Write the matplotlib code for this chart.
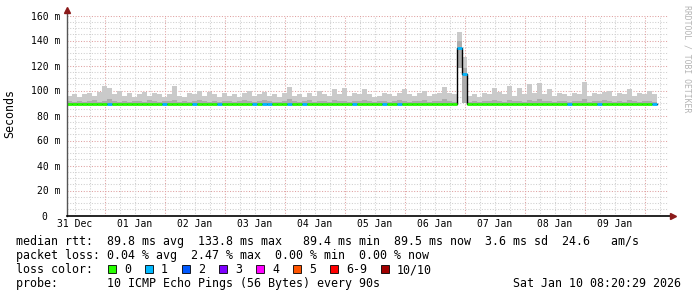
#!/usr/bin/env python3
"""SmokePing style latency graph, 10 days, rrdtool look"""
import datetime as dt
import numpy as np
import matplotlib
matplotlib.use('Agg')
import matplotlib.pyplot as plt
import matplotlib.dates as mdates
from matplotlib.patches import Rectangle

# data: one value per 2 hour bin, starting at the left edge of the graph
start = dt.datetime(2025, 12, 31, 8, 40)
step_hours = 2

smoke_hi = [
    96, 97, 95, 97, 98, 96, 99, 104, 102, 97,
    100, 96, 98, 95, 97, 99, 96, 98, 97, 95,
    97, 104, 96, 95, 98, 97, 100, 96, 99, 97,
    95, 98, 96, 97, 95, 98, 100, 96, 97, 99,
    96, 97, 95, 98, 103, 96, 97, 95, 98, 96,
    100, 97, 96, 101, 97, 102, 96, 98, 97, 101,
    97, 95, 96, 98, 97, 96, 98, 101, 97, 96,
    98, 100, 96, 97, 98, 103, 98, 97, 147, 127,
    96, 97, 95, 98, 97, 102, 99, 97, 104, 96,
    102, 97, 105, 98, 106, 97, 101, 96, 98, 97,
    96, 98, 97, 107, 96, 98, 97, 99, 100, 96,
    98, 97, 101, 96, 98, 97, 100, 97,
]
smoke_mid = [
    91.5, 91, 92, 90.5, 91.5, 92.5, 91, 92, 93, 91.5,
    91, 91.5, 90.5, 92, 91.5, 91, 92.5, 91.5, 90.5, 91.5,
    92, 92.5, 91, 91.5, 90.5, 92, 92.5, 91.5, 91, 91.5,
    90.5, 91.5, 92, 91, 91.5, 92.5, 91.5, 91, 92, 92.5,
    91.5, 91, 90.5, 92, 93, 91.5, 91, 91.5, 92.5, 91,
    91.5, 92, 91, 92.5, 91.5, 92, 90.5, 91.5, 92, 92.5,
    91.5, 91, 91.5, 92, 91, 91.5, 92.5, 92, 91, 91.5,
    92, 92.5, 91, 91.5, 92, 93, 91.5, 91, 140, 118,
    91, 91.5, 90.5, 92, 91.5, 92.5, 91.5, 91, 92.5, 91.5,
    92, 91, 92.5, 91.5, 93, 91.5, 92, 91, 91.5, 92,
    91, 91.5, 92, 93, 91, 91.5, 92, 92.5, 91.5, 91,
    91.5, 91, 92.5, 91.5, 91, 92, 91.5, 91,
]
smoke_lo = [
    88.8, 88.8, 88.7, 88.8, 88.9, 88.8, 88.8, 88.7, 88.8, 88.8,
    88.8, 88.7, 88.8, 88.8, 88.9, 88.8, 88.8, 88.8, 88.7, 88.8,
    88.8, 88.8, 88.9, 88.8, 88.8, 88.7, 88.8, 88.8, 88.8, 88.8,
    88.7, 88.8, 88.8, 88.8, 88.9, 88.8, 88.8, 88.7, 88.8, 88.8,
    88.8, 88.8, 88.7, 88.8, 88.8, 88.9, 88.8, 88.8, 88.8, 88.7,
    88.8, 88.8, 88.8, 88.8, 88.9, 88.8, 88.7, 88.8, 88.8, 88.8,
    88.8, 88.7, 88.8, 88.8, 88.8, 88.9, 88.8, 88.8, 88.7, 88.8,
    88.8, 88.8, 88.8, 88.7, 88.8, 88.8, 88.9, 88.8, 118, 90,
    88.8, 88.8, 88.7, 88.8, 88.8, 88.8, 88.9, 88.8, 88.8, 88.7,
    88.8, 88.8, 88.8, 88.8, 88.7, 88.8, 88.9, 88.8, 88.8, 88.8,
    88.8, 88.7, 88.8, 88.8, 88.8, 88.8, 88.9, 88.8, 88.7, 88.8,
    88.8, 88.8, 88.8, 88.7, 88.8, 88.8, 88.8, 88.8,
]
median = [
    89.6, 89.6, 89.6, 89.6, 89.6, 89.6, 89.6, 89.6, 89.6, 89.6,
    89.6, 89.6, 89.6, 89.6, 89.6, 89.6, 89.6, 89.6, 89.6, 89.6,
    89.6, 89.6, 89.6, 89.6, 89.6, 89.6, 89.6, 89.6, 89.6, 89.6,
    89.6, 89.6, 89.6, 89.6, 89.6, 89.6, 89.6, 89.6, 89.6, 89.6,
    89.6, 89.6, 89.6, 89.6, 89.6, 89.6, 89.6, 89.6, 89.6, 89.6,
    89.6, 89.6, 89.6, 89.6, 89.6, 89.6, 89.6, 89.6, 89.6, 89.6,
    89.6, 89.6, 89.6, 89.6, 89.6, 89.6, 89.6, 89.6, 89.6, 89.6,
    89.6, 89.6, 89.6, 89.6, 89.6, 89.6, 89.6, 89.6, 133.8, 113.0,
    89.6, 89.6, 89.6, 89.6, 89.6, 89.6, 89.6, 89.6, 89.6, 89.6,
    89.6, 89.6, 89.6, 89.6, 89.6, 89.6, 89.6, 89.6, 89.6, 89.6,
    89.6, 89.6, 89.6, 89.6, 89.6, 89.6, 89.6, 89.6, 89.6, 89.6,
    89.6, 89.6, 89.6, 89.6, 89.6, 89.6, 89.6, 89.6,
]
loss = [
    0, 0, 0, 0, 0, 0, 0, 0, 1, 0,
    0, 0, 0, 0, 0, 0, 0, 0, 0, 1,
    0, 0, 0, 0, 0, 1, 0, 0, 0, 0,
    1, 0, 0, 0, 0, 0, 0, 1, 0, 1,
    1, 0, 0, 0, 1, 0, 0, 1, 0, 0,
    0, 0, 0, 0, 0, 0, 0, 1, 0, 0,
    0, 0, 0, 1, 0, 0, 1, 0, 0, 0,
    0, 0, 0, 0, 0, 0, 0, 0, 1, 1,
    0, 0, 0, 0, 0, 0, 0, 0, 0, 0,
    0, 0, 0, 0, 0, 0, 0, 0, 0, 0,
    1, 0, 0, 0, 0, 0, 1, 0, 0, 0,
    0, 0, 0, 0, 0, 0, 0, 1,
]

loss_labels = ['0', '1', '2', '3', '4', '5', '6-9', '10/10']
loss_colors = ['#26ff00', '#00b8ff', '#0059ff', '#7e00ff', '#ff00ff',
               '#ff5500', '#ff0000', '#a10000']

y_ticks = [0, 20, 40, 60, 80, 100, 120, 140, 160]
y_labels = ['0  ', '20 m', '40 m', '60 m', '80 m', '100 m', '120 m', '140 m', '160 m']
day_labels = ['31 Dec', '01 Jan', '02 Jan', '03 Jan', '04 Jan',
              '05 Jan', '06 Jan', '07 Jan', '08 Jan', '09 Jan']

lines = [
    'median rtt:  89.8 ms avg  133.8 ms max   89.4 ms min  89.5 ms now  3.6 ms sd  24.6   am/s',
    'packet loss: 0.04 % avg  2.47 % max  0.00 % min  0.00 % now',
    'loss color:',
    'probe:       10 ICMP Echo Pings (56 Bytes) every 90s',
]
stamp = 'Sat Jan 10 08:20:29 2026'

MONO = 'DejaVu Sans Mono'
W, H = 697, 297
GRID = '#cfcfcf'
MGRID = '#dfa0a0'
ARROW = '#8b1a1a'


def main():
    fig = plt.figure(figsize=(W / 100, H / 100), dpi=100)
    fig.patch.set_facecolor('white')
    ax = fig.add_axes([66.7 / W, (H - 215.5) / H, 601.6 / W, 200 / H])
    ax.set_facecolor('white')

    n = len(median)
    step = dt.timedelta(hours=step_hours)
    times = [start + step * i for i in range(n)]
    edges = mdates.date2num(times + [times[-1] + step])
    x0 = mdates.date2num(start)
    x1 = x0 + 601.6 / 2.5 / 24.0
    ax.set_xlim(x0, x1)
    ax.set_ylim(0, 160)

    # grid (rrdtool style dotted)
    dots = (0, (1, 1.6))
    for v in range(5, 161, 5):
        c = MGRID if v % 20 == 0 else GRID
        ax.axhline(v, color=c, lw=0.75, ls=dots, zorder=0)
    t = dt.datetime(2025, 12, 31, 12, 0)
    while mdates.date2num(t) <= x1:
        xv = mdates.date2num(t)
        if xv > x0:
            c = MGRID if t.hour == 0 else GRID
            ax.axvline(xv, color=c, lw=0.75, ls=dots, zorder=0)
        t += dt.timedelta(hours=6)
    ax.axvline(x1, color=GRID, lw=0.75, ls=dots, zorder=0)

    # smoke
    def stair(v):
        return np.append(v, v[-1])
    ax.fill_between(edges, stair(smoke_lo), stair(smoke_hi), step='post',
                    color='#cacaca', lw=0, zorder=1)
    ax.fill_between(edges, stair(smoke_lo), stair(smoke_mid), step='post',
                    color='#acacac', lw=0, zorder=1)

    # median, coloured by loss
    ax.step(edges, stair(median), where='post', color='black', lw=1.0, zorder=2)
    for i in range(n):
        ax.plot([edges[i], edges[i + 1]], [median[i], median[i]],
                color=loss_colors[loss[i]], lw=2.0, solid_capstyle='butt', zorder=3)

    # axes
    for s in ax.spines.values():
        s.set_visible(False)
    ax.plot([0, 0], [0, 1.03], transform=ax.transAxes, color='#555555', lw=1.0,
            clip_on=False, zorder=4)
    ax.plot([0, 1.005], [0, 0], transform=ax.transAxes, color='black', lw=1.2,
            clip_on=False, zorder=4)
    ax.plot([0], [1.03], transform=ax.transAxes, marker='^', ms=4.5, color=ARROW,
            clip_on=False, zorder=5)
    ax.plot([1.007], [0], transform=ax.transAxes, marker='>', ms=4.5, color=ARROW,
            clip_on=False, zorder=5)

    ax.set_yticks(y_ticks)
    ax.set_yticklabels(y_labels)
    noons = [mdates.date2num(dt.datetime(2025, 12, 31, 12) + dt.timedelta(days=k))
             for k in range(len(day_labels))]
    ax.set_xticks(noons)
    ax.set_xticklabels(day_labels)
    ax.tick_params(axis='y', length=0, pad=4.8, labelsize=7)
    ax.tick_params(axis='x', length=0, pad=2.8, labelsize=7)
    for lab in ax.get_xticklabels() + ax.get_yticklabels():
        lab.set_family(MONO)

    fig.text(10 / W, 1 - 113.5 / H, 'Seconds', rotation=90, ha='center', va='center',
             fontsize=8.4, family=MONO)
    fig.text(687 / W, 1 - 5 / H, 'RRDTOOL / TOBI OETIKER', rotation=-90,
             ha='center', va='top', fontsize=5.9, family=MONO, color='#b4b4b4')

    # legend block
    baselines = [245, 259.2, 273.4, 287.4]
    for txt, b in zip(lines, baselines):
        fig.text(16 / W, 1 - b / H, txt, ha='left', va='baseline',
                 fontsize=8.4, family=MONO)
    fig.text(681 / W, 1 - baselines[3] / H, stamp, ha='right', va='baseline',
             fontsize=8.4, family=MONO)

    bx = 108
    for lab, col in zip(loss_labels, loss_colors):
        fig.patches.append(Rectangle((bx / W, 1 - 273.3 / H), 8 / W, 8 / H,
                                     transform=fig.transFigure, facecolor=col,
                                     edgecolor='black', lw=0.6))
        fig.text((bx + 16) / W, 1 - baselines[2] / H, lab, ha='left', va='baseline',
                 fontsize=8.4, family=MONO)
        bx += 16 + len(lab) * 7 + 14

    fig.savefig('out.png', dpi=100)


if __name__ == '__main__':
    main()
